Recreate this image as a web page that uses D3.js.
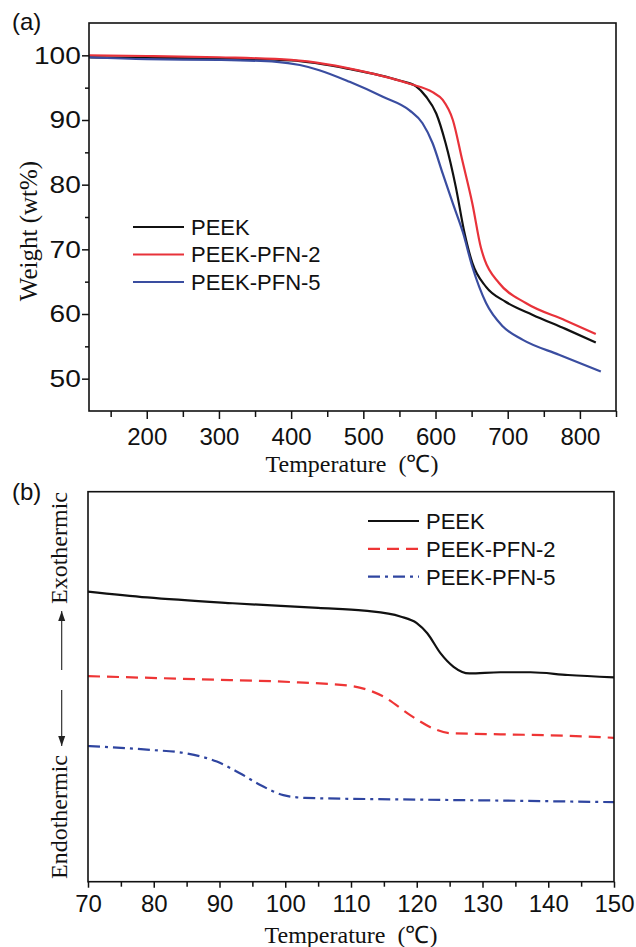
<!DOCTYPE html>
<html>
<head>
<meta charset="utf-8">
<script src="https://cdn.jsdelivr.net/npm/d3@7"></script>
<style>
  body { margin: 0; background: #fff; }
  svg { display: block; }
  .tick text { font-family: "Liberation Sans", Arial, sans-serif; font-size: 24px; fill: #111; }
  .tick line { stroke: #111; stroke-width: 1.5; }
  .legend text { font-family: "Liberation Sans", Arial, sans-serif; font-size: 22px; fill: #111; }
  .title { font-family: "Liberation Serif", "Times New Roman", serif; font-size: 24px; fill: #111; }
  .panel-label { font-family: "Liberation Sans", Arial, sans-serif; font-size: 24px; fill: #111; }
</style>
</head>
<body>
<svg id="chart"></svg>
<script>
// ---- (a) TGA ----
const tgaXMajor = [200, 300, 400, 500, 600, 700, 800];
const tgaXMinor = [150, 250, 350, 450, 550, 650, 750, 850];
const tgaYMajor = [50, 60, 70, 80, 90, 100];
const tgaYMinor = [55, 65, 75, 85, 95];
const tgaNames = ["PEEK", "PEEK-PFN-2", "PEEK-PFN-5"];

const peekTga = [[120, 99.7], [200, 99.6], [300, 99.5], [400, 99.2], [480, 97.9], [550, 96.1],
  [573, 95.2], [587, 93.6], [601, 91.0], [614, 86.4], [628, 79.7], [640, 72.6], [651, 67.9],
  [670, 64.2], [697, 61.9], [734, 59.9], [780, 57.7], [822, 55.6]];
const pfn2Tga = [[120, 100.0], [200, 99.9], [300, 99.7], [400, 99.3], [504, 97.4], [564, 95.6],
  [596, 94.3], [610, 93.1], [624, 90.0], [637, 83.8], [651, 77.1], [663, 70.2], [668, 68.4],
  [688, 64.8], [725, 61.7], [780, 59.0], [822, 56.9]];
const pfn5Tga = [[120, 99.7], [200, 99.4], [300, 99.3], [380, 99.0], [412, 98.5], [439, 97.7],
  [481, 95.9], [527, 93.6], [564, 91.5], [582, 89.5], [596, 86.4], [610, 81.7], [624, 77.1],
  [638, 72.6], [651, 67.3], [670, 61.7], [693, 58.1], [721, 56.0], [771, 53.7], [829, 51.1]];

// ---- (b) DSC ----
const dscXMajor = [70, 80, 90, 100, 110, 120, 130, 140, 150];
const dscXMinor = [75, 85, 95, 105, 115, 125, 135, 145];

const peekDsc = [[70, 7.44], [79, 7.29], [92, 7.14], [105, 7.02], [112, 6.95], [117.5, 6.80],
  [120, 6.63], [121.6, 6.37], [123.6, 5.86], [125.6, 5.51], [128, 5.34], [132.7, 5.37],
  [137.3, 5.37], [143, 5.30], [150, 5.24]];
const pfn2Dsc = [[70, 5.27], [87, 5.19], [102, 5.11], [110, 5.02], [115, 4.74], [119, 4.27],
  [122.5, 3.93], [125, 3.81], [132.7, 3.78], [143, 3.74], [150, 3.69]];
const pfn5Dsc = [[70, 3.48], [79.4, 3.38], [85, 3.29], [89.6, 3.08], [93.1, 2.78], [96.2, 2.48],
  [99.7, 2.22], [103, 2.15], [117.5, 2.11], [132.7, 2.08], [150, 2.04]];

const W = 636, H = 947;
const svg = d3.select("#chart").attr("width", W).attr("height", H);

const defs = svg.append("defs");
defs.append("marker")
  .attr("id", "arrow")
  .attr("viewBox", "0 0 10 10")
  .attr("refX", 10).attr("refY", 5)
  .attr("markerWidth", 10).attr("markerHeight", 10)
  .attr("markerUnits", "userSpaceOnUse")
  .attr("orient", "auto")
  .append("path")
  .attr("d", "M0,1.5 L10,5 L0,8.5 Z")
  .attr("fill", "#222");

function drawAxisX(g, x, y0, major, minor, majorSize, minorSize, pad) {
  const ax = g.append("g").attr("transform", `translate(0,${y0})`)
    .call(d3.axisBottom(x).tickValues(major).tickSize(majorSize).tickPadding(pad).tickSizeOuter(0));
  ax.select(".domain").remove();
  const mi = g.append("g").attr("transform", `translate(0,${y0})`)
    .call(d3.axisBottom(x).tickValues(minor).tickSize(minorSize).tickFormat("").tickSizeOuter(0));
  mi.select(".domain").remove();
}

function drawAxisY(g, y, x0, major, minor, majorSize, minorSize, pad) {
  const ax = g.append("g").attr("transform", `translate(${x0},0)`)
    .call(d3.axisLeft(y).tickValues(major).tickSize(majorSize).tickPadding(pad).tickSizeOuter(0));
  ax.select(".domain").remove();
  // the y labels in the figure are a bit wider than the x ones
  ax.selectAll(".tick text").attr("transform", "scale(1.17,1)");
  const mi = g.append("g").attr("transform", `translate(${x0},0)`)
    .call(d3.axisLeft(y).tickValues(minor).tickSize(minorSize).tickFormat("").tickSizeOuter(0));
  mi.select(".domain").remove();
}

function drawLegend(g, items, x0, y0, step) {
  const lg = g.append("g").attr("class", "legend");
  items.forEach((d, i) => {
    const row = lg.append("g").attr("transform", `translate(${x0},${y0 + i * step})`);
    row.append("line")
      .attr("x1", 0).attr("x2", 51)
      .attr("stroke", d.color).attr("stroke-width", 2.2)
      .attr("stroke-dasharray", d.dash || null);
    row.append("text").attr("x", 58).attr("dy", "0.36em").text(d.name);
  });
}

// ===== panel (a) =====
const xa = d3.scaleLinear().domain([120, 850]).range([89, 616]);
const ya = d3.scaleLinear().domain([45, 105]).range([411, 23]);
const ga = svg.append("g");

drawAxisX(ga, xa, 411, tgaXMajor, tgaXMinor, 8, 6, 9);
drawAxisY(ga, ya, 89, tgaYMajor, tgaYMinor, 7, 4, 0);

const lineA = d3.line().x(d => xa(d[0])).y(d => ya(d[1])).curve(d3.curveMonotoneX);
const tgaSeries = [
  { name: tgaNames[0], data: peekTga, color: "#111" },
  { name: tgaNames[1], data: pfn2Tga, color: "#e8323a" },
  { name: tgaNames[2], data: pfn5Tga, color: "#3a4da0" }
];
ga.selectAll(".tga-line")
  .data(tgaSeries)
  .join("path")
  .attr("class", "tga-line")
  .attr("fill", "none")
  .attr("stroke", d => d.color)
  .attr("stroke-width", 2.2)
  .attr("d", d => lineA(d.data));

ga.append("rect")
  .attr("x", 89).attr("y", 23).attr("width", 616 - 89).attr("height", 411 - 23)
  .attr("fill", "none").attr("stroke", "#111").attr("stroke-width", 1.6);

drawLegend(ga, tgaSeries, 133, 227, 27.5);

ga.append("text").attr("class", "title")
  .attr("transform", "translate(37,231) rotate(-90)")
  .attr("text-anchor", "middle")
  .style("font-size", "25px")
  .text("Weight (wt%)");
ga.append("text").attr("class", "title")
  .attr("x", 352).attr("y", 472)
  .attr("text-anchor", "middle")
  .text("Temperature\u2002(\u2103)");
ga.append("text").attr("class", "panel-label").attr("x", 12).attr("y", 30).text("(a)");

// ===== panel (b) =====
const xb = d3.scaleLinear().domain([70, 150]).range([88, 614]);
const yb = d3.scaleLinear().domain([0, 10]).range([881.7, 491.7]);
const gb = svg.append("g");

drawAxisX(gb, xb, 881.7, dscXMajor, dscXMinor, 6, 5, 7);

const lineB = d3.line().x(d => xb(d[0])).y(d => yb(d[1])).curve(d3.curveMonotoneX);
const dscSeries = [
  { name: tgaNames[0], data: peekDsc, color: "#111" },
  { name: tgaNames[1], data: pfn2Dsc, color: "#ee3535", dash: "12 7" },
  { name: tgaNames[2], data: pfn5Dsc, color: "#2f45a0", dash: "12 5 3 5" }
];
gb.selectAll(".dsc-line")
  .data(dscSeries)
  .join("path")
  .attr("class", "dsc-line")
  .attr("fill", "none")
  .attr("stroke", d => d.color)
  .attr("stroke-width", 2.2)
  .attr("stroke-dasharray", d => d.dash || null)
  .attr("d", d => lineB(d.data));

gb.append("rect")
  .attr("x", 88).attr("y", 491.7).attr("width", 614 - 88).attr("height", 881.7 - 491.7)
  .attr("fill", "none").attr("stroke", "#111").attr("stroke-width", 1.6);

drawLegend(gb, dscSeries, 368, 521, 27.8);

// exo / endo arrows
gb.append("line").attr("x1", 61.7).attr("x2", 61.7).attr("y1", 670).attr("y2", 611)
  .attr("stroke", "#222").attr("stroke-width", 1.1).attr("marker-end", "url(#arrow)");
gb.append("line").attr("x1", 61.7).attr("x2", 61.7).attr("y1", 690).attr("y2", 746)
  .attr("stroke", "#222").attr("stroke-width", 1.1).attr("marker-end", "url(#arrow)");
gb.append("text").attr("class", "title")
  .attr("transform", "translate(66.5,548) rotate(-90)")
  .attr("text-anchor", "middle").text("Exothermic");
gb.append("text").attr("class", "title")
  .attr("transform", "translate(66.5,817) rotate(-90)")
  .attr("text-anchor", "middle").text("Endothermic");

gb.append("text").attr("class", "title")
  .attr("x", 351).attr("y", 943)
  .attr("text-anchor", "middle")
  .text("Temperature\u2002(\u2103)");
gb.append("text").attr("class", "panel-label").attr("x", 12).attr("y", 500).text("(b)");
</script>
</body>
</html>
